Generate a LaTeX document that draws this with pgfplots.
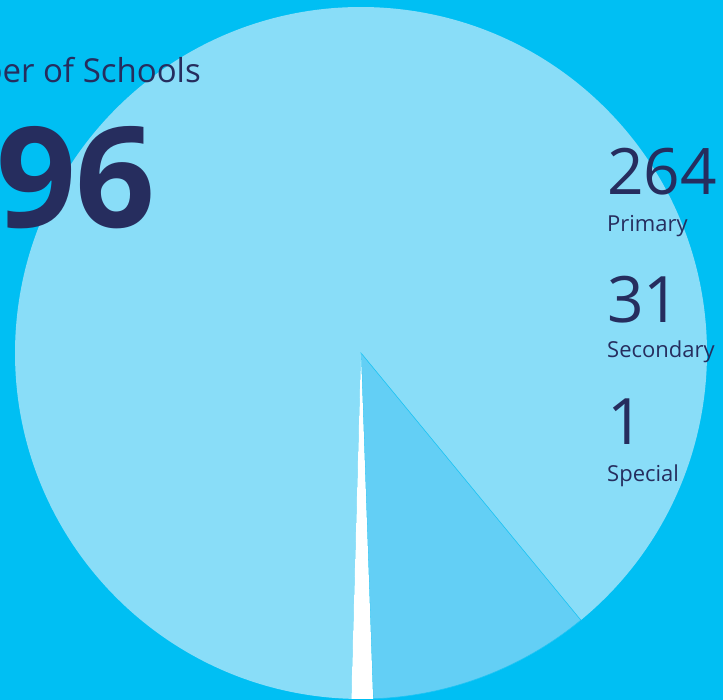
\documentclass[border=0pt]{standalone}
\usepackage{pgfplots}
\pgfplotsset{compat=1.18}
\usepackage{pgfplotstable}
\usepackage{fontspec}
\setmainfont{Open Sans}
\definecolor{bg}{HTML}{00BFF3}
\definecolor{cPrim}{HTML}{89DDF8}
\definecolor{cSec}{HTML}{63CFF5}
\definecolor{cSpec}{HTML}{FFFFFF}
\definecolor{navy}{HTML}{262D5E}

\pgfplotstableread{
name value
Primary 264
Secondary 31
Special 1
}\schools

\begin{document}
\begin{tikzpicture}
\useasboundingbox (0pt,0pt) rectangle (723pt,700pt);
\clip (0pt,0pt) rectangle (723pt,700pt);
\fill[bg] (0pt,0pt) rectangle (723pt,700pt);
\pgfplotstablegetelem{0}{value}\of\schools \let\vA\pgfplotsretval
\pgfplotstablegetelem{1}{value}\of\schools \let\vB\pgfplotsretval
\pgfplotstablegetelem{2}{value}\of\schools \let\vC\pgfplotsretval
\pgfmathsetmacro\tot{\vA+\vB+\vC}
\pgfmathsetmacro\aC{max(3.6,360*(\vC/\tot))}
\pgfmathsetmacro\fA{\vA/(\vA+\vB)}
\pgfmathsetmacro\aA{(360-\aC)*\fA}
\pgfmathsetmacro\aB{360-\aC-\aA}
\pgfmathsetmacro\sA{-91.6}
\pgfmathsetmacro\sB{\sA-\aA}
\pgfmathsetmacro\sC{\sB-\aB}
\pgfmathsetmacro\sD{\sC-\aC}
\begin{axis}[at={(0pt,0pt)}, anchor=south west, width=723pt, height=700pt,
  scale only axis, xmin=0, xmax=723, ymin=0, ymax=700, hide axis, clip=false]
\fill[cPrim] (axis cs:361,347) -- (axis cs:{361+346*cos(\sA)},{347+346*sin(\sA)}) arc[start angle=\sA, end angle=\sB, radius=346pt] -- cycle;
\fill[cSec, draw=bg!70!cSec, line width=0.6pt] (axis cs:361,347) -- (axis cs:{361+346*cos(\sB)},{347+346*sin(\sB)}) arc[start angle=\sB, end angle=\sC, radius=346pt] -- cycle;
\fill[cSpec] (axis cs:361,347) -- (axis cs:{361+346*cos(\sC)},{347+346*sin(\sC)}) arc[start angle=\sC, end angle=\sD, radius=346pt] -- cycle;
\node[anchor=base east, inner sep=0pt, text=navy, font=\fontsize{33}{40}\selectfont] at (axis cs:201,617) {Number of Schools};
\node[anchor=base east, inner sep=0pt, text=navy, font=\fontsize{140}{160}\selectfont\bfseries] at (axis cs:156,472) {296};
\node[anchor=base west, inner sep=0pt, text=navy, font=\fontsize{64}{72}\selectfont] at (axis cs:607,505) {264};
\node[anchor=base west, inner sep=0pt, text=navy, font=\fontsize{22}{26}\selectfont] at (axis cs:607,468) {Primary};
\node[anchor=base west, inner sep=0pt, text=navy, font=\fontsize{64}{72}\selectfont] at (axis cs:607,377) {31};
\node[anchor=base west, inner sep=0pt, text=navy, font=\fontsize{22}{26}\selectfont] at (axis cs:607,342) {Secondary};
\node[anchor=base west, inner sep=0pt, text=navy, font=\fontsize{64}{72}\selectfont] at (axis cs:607,255) {1};
\node[anchor=base west, inner sep=0pt, text=navy, font=\fontsize{22}{26}\selectfont] at (axis cs:607,218) {Special};
\end{axis}
\end{tikzpicture}
\end{document}
